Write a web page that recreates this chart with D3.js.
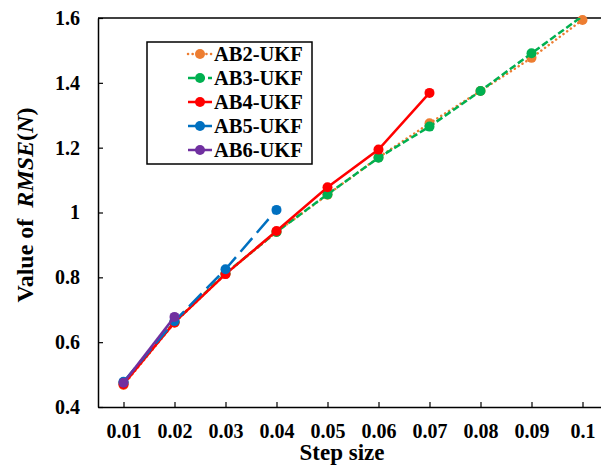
<!DOCTYPE html>
<html>
<head>
<meta charset="utf-8">
<script src="https://cdn.jsdelivr.net/npm/d3@7"></script>
<style>
  body { margin: 0; background: #fff; }
  svg { display: block; font-family: "Liberation Serif", "Times New Roman", serif; font-weight: bold; }
</style>
</head>
<body>
<svg id="chart" width="601" height="468"></svg>
<script>
// step sizes on the category axis
const steps = ["0.01", "0.02", "0.03", "0.04", "0.05", "0.06", "0.07", "0.08", "0.09", "0.1"];
const yTicks = [0.4, 0.6, 0.8, 1.0, 1.2, 1.4, 1.6];

// RMSE values per method
const ab2 = [0.468, 0.66, 0.81, 0.94, 1.055, 1.17, 1.275, 1.375, 1.477, 1.594];
const ab3 = [0.475, 0.662, 0.812, 0.94, 1.056, 1.169, 1.265, 1.375, 1.491, 1.606];
const ab4 = [0.47, 0.661, 0.81, 0.943, 1.078, 1.194, 1.369];
const ab5 = [0.478, 0.665, 0.825, 1.008];
const ab6 = [0.475, 0.678];

const series = [
  { name: "AB2-UKF", values: ab2, color: "#ED7D31", dash: "0.1,4.5", cap: "round", legendDash: "0.1,4.5" },
  { name: "AB3-UKF", values: ab3, color: "#00B050", dash: "7,3", cap: "butt", legendDash: "7,3" },
  { name: "AB4-UKF", values: ab4, color: "#FF0000", dash: null, cap: "butt", legendDash: null },
  { name: "AB5-UKF", values: ab5, color: "#0070C0", dash: "18,7", cap: "butt", legendDash: null },
  { name: "AB6-UKF", values: ab6, color: "#7030A0", dash: null, cap: "butt", legendDash: null }
];

const svg = d3.select("#chart");
const m = { left: 98, right: 608, top: 18, bottom: 407 };

const x = d3.scalePoint().domain(steps).range([m.left, m.right]).padding(0.5);
const y = d3.scaleLinear().domain([0.4, 1.6]).range([m.bottom, m.top]);

svg.append("clipPath").attr("id", "plot-clip")
  .append("rect").attr("x", m.left).attr("y", m.top).attr("width", m.right - m.left).attr("height", m.bottom - m.top);

// plot frame (top border; right edge falls outside the picture)
svg.append("line").attr("x1", m.left).attr("x2", m.right).attr("y1", m.top).attr("y2", m.top)
  .attr("stroke", "#000").attr("stroke-width", 1.5);

// y axis
const yAxis = svg.append("g").attr("transform", `translate(${m.left},0)`)
  .call(d3.axisLeft(y).tickValues(yTicks).tickSizeInner(-5).tickSizeOuter(0)
    .tickFormat(d => d3.format("~g")(d)).tickPadding(18));
yAxis.select(".domain").attr("stroke", "#000").attr("stroke-width", 1.5);
yAxis.selectAll(".tick line").attr("stroke", "#000").attr("stroke-width", 1.2);
yAxis.selectAll("text").attr("font-size", 20).attr("font-family", "Liberation Serif")
  .attr("font-weight", "bold").attr("fill", "#000");

// x axis
const xAxis = svg.append("g").attr("transform", `translate(0,${m.bottom})`)
  .call(d3.axisBottom(x).tickSizeInner(-5).tickSizeOuter(0).tickPadding(17));
xAxis.select(".domain").attr("stroke", "#000").attr("stroke-width", 1.5);
xAxis.selectAll(".tick line").attr("stroke", "#000").attr("stroke-width", 1.2);
xAxis.selectAll("text").attr("font-size", 20).attr("font-family", "Liberation Serif")
  .attr("font-weight", "bold").attr("fill", "#000");

// axis titles
svg.append("text").attr("x", 342).attr("y", 460).attr("text-anchor", "middle")
  .attr("font-size", 23).text("Step size");

const yt = svg.append("text").attr("transform", "translate(33,205) rotate(-90)")
  .attr("text-anchor", "middle").attr("font-size", 24);
yt.append("tspan").text("Value of ");
yt.append("tspan").attr("dx", 5).attr("font-style", "italic").text("RMSE");
yt.append("tspan").text("(");
yt.append("tspan").attr("font-style", "italic").text("N");
yt.append("tspan").text(")");

// series
const line = d3.line()
  .x(d => x(d.s))
  .y(d => y(d.v));

series.forEach(s => {
  const pts = s.values.map((v, i) => ({ s: steps[i], v: v }));
  const g = svg.append("g");
  g.append("path").datum(pts).attr("d", line).attr("clip-path", "url(#plot-clip)")
    .attr("fill", "none").attr("stroke", s.color).attr("stroke-width", 2.5)
    .attr("stroke-dasharray", s.dash).attr("stroke-linecap", s.cap);
  // markers outside the value axis range are not drawn
  g.selectAll("circle").data(pts.filter(d => d.v <= 1.6)).enter().append("circle")
    .attr("cx", d => x(d.s)).attr("cy", d => y(d.v)).attr("r", 5)
    .attr("fill", s.color);
});

// legend
const legend = svg.append("g");
legend.append("rect").attr("x", 147).attr("y", 42).attr("width", 165).attr("height", 122)
  .attr("fill", "#fff").attr("stroke", "#000").attr("stroke-width", 1.5);
series.forEach((s, i) => {
  const ly = 54 + i * 24;
  legend.append("line").attr("x1", 188).attr("x2", 212).attr("y1", ly).attr("y2", ly)
    .attr("stroke", s.color).attr("stroke-width", 2.5)
    .attr("stroke-dasharray", s.legendDash).attr("stroke-linecap", s.cap);
  legend.append("circle").attr("cx", 200).attr("cy", ly).attr("r", 5).attr("fill", s.color);
  legend.append("text").attr("x", 214).attr("y", ly + 7).attr("font-size", 20.5).text(s.name);
});
</script>
</body>
</html>
